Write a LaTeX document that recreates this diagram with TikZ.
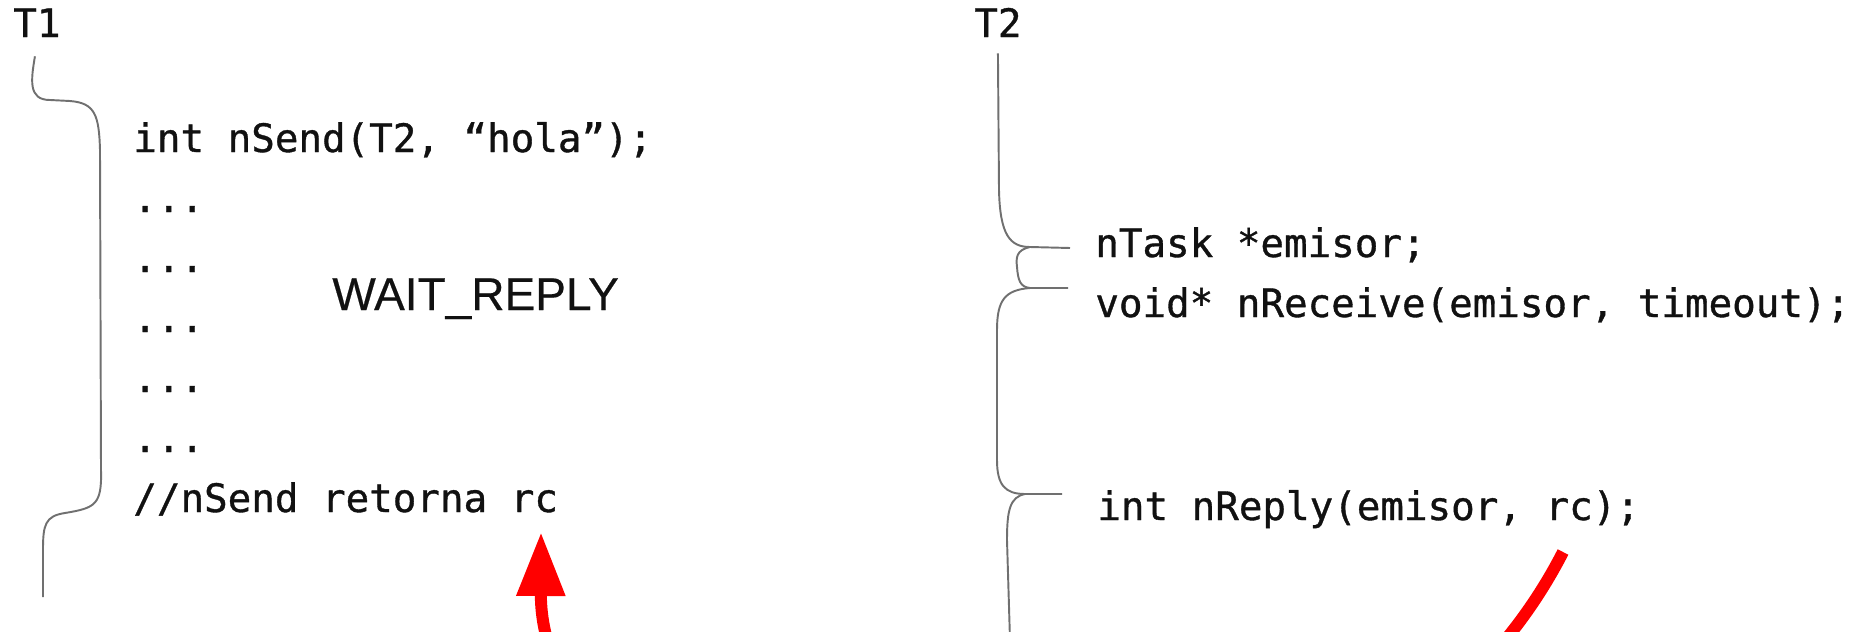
\documentclass[tikz,border=0pt]{standalone}
\usepackage{fontspec}
\usepackage{xcolor}
\usetikzlibrary{arrows.meta}
\newfontfamily\codefont[FakeBold=0.9]{DejaVu Sans Mono}
\newfontfamily\labelfont[FakeBold=0.4]{Liberation Sans}
\definecolor{bgray}{HTML}{707070}
\definecolor{bred}{HTML}{FF0000}
\definecolor{bdark}{HTML}{111111}

\begin{document}
\begin{tikzpicture}[x=0.02cm, y=-0.02cm,
    code/.style={anchor=base west, inner sep=0pt, text=bdark,
      font=\codefont\fontsize{22.3}{26}\selectfont},
    state/.style={anchor=base west, inner sep=0pt, text=bdark,
      font=\labelfont\fontsize{26.2}{30}\selectfont},
    brace/.style={bgray, line width=1.1pt},
    reply/.style={bred, line width=0.24cm,
      -{Triangle[length=1.28cm, width=0.92cm]}}]
  \useasboundingbox (0,0) rectangle (1860,632);

  % Task labels
  \node[code] (t1) at (13,37) {T1};
  \node[code] (t2) at (974,37) {T2};

  % T1 code
  \node[code] (send) at (133,152) {int nSend(T2, “hola”);};
  \foreach \i in {1,...,5} {
    \node[code] (dots\i) at (133,152+60*\i) {...};
  }
  \node[code] (ret) at (133,512) {//nSend retorna rc};
  \node[state] (wait) at (332,310) {WAIT\_REPLY};

  % T2 code
  \node[code] (task) at (1095,257) {nTask *emisor;};
  \node[code] (recv) at (1095,317) {void* nReceive(emisor, timeout);};
  \node[code] (reply) at (1097,520) {int nReply(emisor, rc);};

  % T1 time line
  \coordinate (t1top) at ([shift={(-2,19)}]t1.south);
  \draw[brace] (t1top) .. controls (31,80) and (28,100) .. (50,100) -- (70,101)
    .. controls (95,103) and (99,115) .. (100,150) -- (101,470)
    .. controls (102,505) and (95,508) .. (65,513)
    .. controls (45,516) and (43,525) .. (43,550) -- (43,597);

  % T2 time line
  \coordinate (t2top) at ([shift={(0,16)}]t2.south);
  \draw[brace] (t2top) -- (999,190) .. controls (1000,235) and (1010,247) .. (1030,247) -- (1070,248);
  \draw[brace] (1030,247) .. controls (1016,250) and (1016,258) .. (1017,267)
    .. controls (1018,280) and (1020,287) .. (1030,288) -- (1068,288);
  \draw[brace] (1030,288) .. controls (1005,290) and (997,300) .. (997,330) -- (997,460)
    .. controls (997,485) and (1005,494) .. (1025,494) -- (1062,494);
  \draw[brace] (1025,494) .. controls (1010,497) and (1007,510) .. (1007,540) -- (1010,640);

  % Reply goes back to T1
  \coordinate (rcfrom) at (1563,552);
  \coordinate (rcto) at (541,532);
  \begin{scope}
    \clip (0,0) rectangle (1860,632);
    \draw[reply] (rcfrom) .. controls (1335,997) and (540,900) .. (rcto);
  \end{scope}
\end{tikzpicture}
\end{document}
